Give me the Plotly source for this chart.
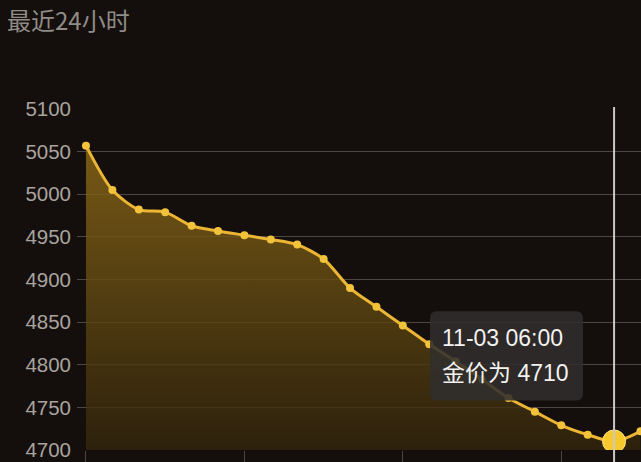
import numpy as np
import pandas as pd
import plotly.graph_objects as go

# gold price, hourly, last 24h
times = pd.date_range("2023-11-02 10:00", periods=22, freq="h").strftime("%m-%d %H:%M").tolist()
prices = [5057, 5005, 4982, 4979, 4963, 4957, 4952, 4947, 4941, 4924, 4890,
          4868, 4846, 4824, 4804, 4783, 4761, 4745, 4729, 4718, 4710, 4722]
y_ticks = [4700, 4750, 4800, 4850, 4900, 4950, 5000, 5050, 5100]
x_ticks = [0, 6, 12, 18]
hover_idx = 20

W, H = 641, 462
M_L, M_R, M_T, M_B = 77, 0, 109, 9
PW, PH = W - M_L - M_R, H - M_T - M_B

BG = "#140f0c"
GOLD = "#ecb534"
GRID = "#4d4743"


def px(xp, yp):
    # page pixel -> paper coords
    return (xp - M_L) / PW, (H - M_B - yp) / PH


x = np.arange(len(prices))

fig = go.Figure()

fig.add_trace(go.Scatter(
    x=x, y=prices,
    mode="lines+markers",
    line=dict(color=GOLD, width=3, shape="spline", smoothing=0.8),
    marker=dict(size=8, color="#f2c23a"),
    fill="tozeroy",
    fillgradient=dict(
        type="vertical",
        start=4700, stop=5060,
        colorscale=[[0, "rgba(50,37,12,0.8)"], [1, "rgba(145,108,24,0.8)"]],
    ),
    hoverinfo="skip",
))

# highlighted point
fig.add_trace(go.Scatter(
    x=[x[hover_idx]], y=[prices[hover_idx]],
    mode="markers",
    marker=dict(size=23, color="#f7c92c", line=dict(color="#ffe486", width=1)),
    hoverinfo="skip",
))

# hover cursor line
fig.add_shape(type="line", xref="x", yref="paper",
              x0=x[hover_idx], x1=x[hover_idx], y0=-0.05, y1=1.006,
              line=dict(color="#cbc9c6", width=2), layer="above")

# tooltip box (rounded)
bx0, by1 = px(430, 313)
bx1, by0 = px(583, 403)
rx, ry = 7 / PW, 7 / PH
path = (f"M {bx0+rx},{by1} L {bx1-rx},{by1} Q {bx1},{by1} {bx1},{by1-ry} "
        f"L {bx1},{by0+ry} Q {bx1},{by0} {bx1-rx},{by0} "
        f"L {bx0+rx},{by0} Q {bx0},{by0} {bx0},{by0+ry} "
        f"L {bx0},{by1-ry} Q {bx0},{by1} {bx0+rx},{by1} Z")
fig.add_shape(type="path", xref="paper", yref="paper", path=path,
              fillcolor="rgba(48,46,44,0.88)", line=dict(width=0), layer="above")

tx, ty1 = px(440, 340)
_, ty2 = px(440, 375)
tip_font = dict(family="Liberation Sans, Noto Sans CJK SC", size=23, color="#f3f2f0")
fig.add_annotation(x=tx, y=ty1, xref="paper", yref="paper", xanchor="left", yanchor="middle",
                   text=times[hover_idx], showarrow=False, font=tip_font)
fig.add_annotation(x=tx, y=ty2, xref="paper", yref="paper", xanchor="left", yanchor="middle",
                   text=f"金价为 {prices[hover_idx]}", showarrow=False, font=tip_font)

fig.update_layout(
    width=W, height=H,
    margin=dict(l=M_L, r=M_R, t=M_T, b=M_B),
    paper_bgcolor=BG, plot_bgcolor=BG,
    showlegend=False,
    title=dict(text="最近24小时", x=7 / W, xanchor="left", xref="container",
               y=1 - 22 / H, yanchor="middle", yref="container",
               font=dict(family="Noto Sans CJK SC", size=24, color="#908b86")),
    xaxis=dict(range=[-0.34, 21.02], tickmode="array", tickvals=x_ticks,
               showticklabels=False, ticks="outside", ticklen=12,
               tickcolor=GRID, tickwidth=1, showgrid=False, zeroline=False,
               showline=False, fixedrange=True),
    yaxis=dict(range=[4700, 5100], tickmode="array", tickvals=y_ticks,
               showgrid=True, gridcolor=GRID, gridwidth=1, zeroline=False,
               ticks="", ticklabelstandoff=5,
               tickfont=dict(family="Liberation Sans", size=20.5, color="#a8a39e"),
               fixedrange=True),
)

# page has a default 8px body margin; drop it so the figure fills the window
fig.write_html("out.html", config={"displayModeBar": False},
               post_script="document.body.style.margin='0';document.body.style.background='%s';" % BG)
